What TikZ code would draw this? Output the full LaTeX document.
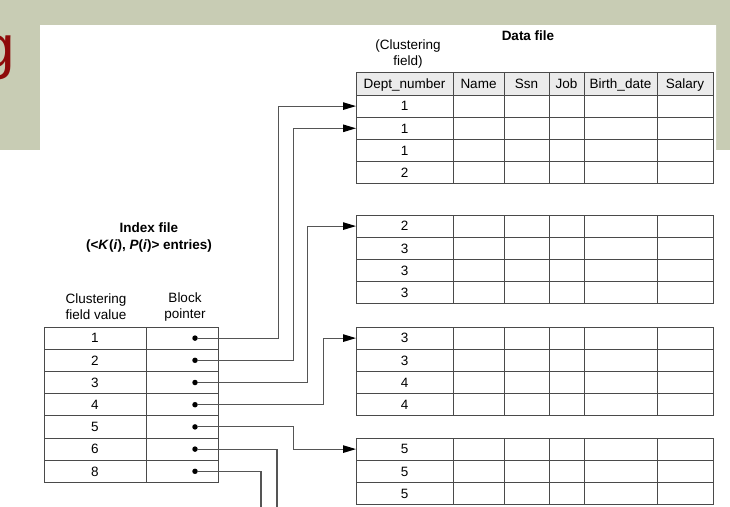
\documentclass[tikz,border=0pt]{standalone}
\usepackage{fontspec}
\setmainfont{Liberation Sans}
\usetikzlibrary{arrows.meta}
\definecolor{bgolive}{HTML}{C8CCB4}
\definecolor{titlered}{HTML}{8E0A0A}
\definecolor{linec}{HTML}{4A4A4A}
\definecolor{connc}{HTML}{555555}
\definecolor{headfill}{HTML}{EBEBEB}
\begin{document}
\begin{tikzpicture}[x=1pt,y=-1pt,
  font=\fontsize{13.5}{16}\selectfont,
  cell/.style={draw=linec, line width=0.9pt, inner sep=0pt, outer sep=0pt, anchor=north west,
    minimum height=22.2pt, text height=9.7pt, text depth=0pt},
  conn/.style={draw=connc, line width=1.1pt},
  arr/.style={conn, -{Triangle[length=13pt,width=7.5pt,color=black]}},
  ptr/.style={circle, fill=black, inner sep=0pt, minimum size=5.5pt},
  lbl/.style={align=center, inner sep=0pt},
  blbl/.style={lbl, font=\fontsize{13.5}{17}\selectfont\bfseries}
]
\useasboundingbox (0,0) rectangle (730,506);
\fill[bgolive] (0,0) rectangle (730,506);
\fill[white] (0,150) -- (40,150) -- (40,25) -- (716,25) -- (716,150) -- (730,150) -- (730,506) -- (0,506) -- cycle;
\node[anchor=base west, inner sep=0pt, text=titlered, font=\fontsize{60}{60}\selectfont] (ttl) at (-19,67) {g};

% data file header
\foreach \x/\w/\t [count=\c] in {356/97/Dept\_number, 453/51/Name, 504/45/Ssn, 549/35/Job, 584/73/Birth\_date, 657/56/Salary}
  \node[cell, fill=headfill, minimum width=\w pt] (h\c) at (\x,72.8) {\t};

% data blocks
\foreach \b/\ty/\vals in {1/95/{1,1,1,2}, 2/215/{2,3,3,3}, 3/327/{3,3,4,4}, 4/438/{5,5,5}} {
  \foreach \v [count=\r] in \vals {
    \foreach \x/\w [count=\c] in {356/97, 453/51, 504/45, 549/35, 584/73, 657/56} {
      \node[cell, minimum width=\w pt] (b\b r\r c\c) at (\x, \ty+22.2*\r-22.2) {\ifnum\c=1 \v\fi};
    }
  }
}

% index file
\foreach \v [count=\r] in {1,2,3,4,5,6,8} {
  \node[cell, minimum width=102pt] (k\r) at (44, 327+22.2*\r-22.2) {\v};
  \node[cell, minimum width=72pt] (p\r) at (146, 327+22.2*\r-22.2) {};
  \node[ptr] (d\r) at (195, 338.1+22.2*\r-22.2) {};
}

% labels
\node[lbl] (cfv) at (96,307) {Clustering\\field value};
\node[lbl] (bp) at (185,307) {Block\\pointer};
\node[blbl] (ixf) at (149,238) {Index file\\(<\textit{K}(\textit{i}), \textit{P}(\textit{i})> entries)};
\node[blbl] (df) at (528,36) {Data file};
\node[lbl] (cf) at (408,54) {(Clustering\\field)};

% connectors
\draw[arr] (d1.east) -- ++(80.5,0) |- (b1r1c1.west);
\draw[arr] (d2.east) -- ++(95.5,0) |- (b1r2c1.west);
\draw[arr] (d3.east) -- ++(109.5,0) |- (b2r1c1.west);
\draw[arr] (d4.east) -- ++(125.5,0) |- (b3r1c1.west);
\draw[arr] (d5.east) -- ++(95.5,0) |- (b4r1c1.west);
\coordinate (e6) at (277,510);
\coordinate (e7) at (261,510);
\draw[conn] (d6.east) -| (e6);
\draw[conn] (d7.east) -| (e7);
\end{tikzpicture}
\end{document}
